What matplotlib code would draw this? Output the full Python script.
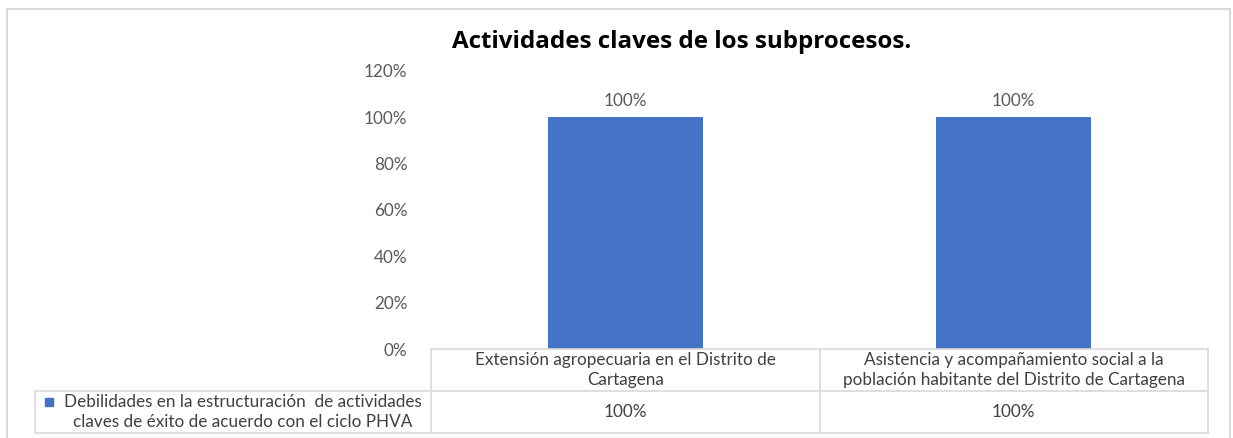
import matplotlib
matplotlib.use("Agg")
import matplotlib.pyplot as plt
from matplotlib.patches import Rectangle
from matplotlib.lines import Line2D

plt.rcParams['font.family'] = ['Lato', 'DejaVu Sans']

title = "Actividades claves de los subprocesos."
categories = [
    "Extensión agropecuaria en el Distrito de\nCartagena",
    "Asistencia y acompañamiento social a la\npoblación habitante del Distrito de Cartagena",
]
series_name = "Debilidades en la estructuración  de actividades\nclaves de éxito de acuerdo con el ciclo PHVA"
values = [1.00, 1.00]
yticks = [0, 0.2, 0.4, 0.6, 0.8, 1.0, 1.2]

BAR = "#4472C4"
GRID = "#D9D9D9"
TICK = "#595959"
TEXT = "#404040"
FS = 12.3

W, H = 1233, 438
fig = plt.figure(figsize=(W / 100, H / 100), dpi=100)

def fx(px):
    return px / W

def fy(py):
    return 1 - py / H

# outer chart border
fig.add_artist(Line2D([fx(6.5), fx(6.5)], [fy(8.5), 0], color=GRID, lw=1.5))
fig.add_artist(Line2D([fx(6.5), fx(1229.5)], [fy(8.5), fy(8.5)], color=GRID, lw=1.5))
fig.add_artist(Line2D([fx(1229.5), fx(1229.5)], [fy(8.5), 0], color=GRID, lw=1.5))

left, right = 431, 1208
y0, ytop = 349, 70.6
ax = fig.add_axes([fx(left), fy(y0), fx(right - left), (y0 - ytop) / H])
x = list(range(len(categories)))
ax.bar(x, values, width=0.4, color=BAR, zorder=2)
ax.set_xlim(-0.5, len(categories) - 0.5)
ax.set_ylim(0, 1.2)
ax.set_yticks(yticks)
ax.set_yticklabels([f"{int(round(t * 100))}%" for t in yticks], color=TICK, fontsize=FS)
ax.tick_params(axis='y', length=0, pad=17)
ax.set_xticks([])
for s in ax.spines.values():
    s.set_visible(False)

for xi, v in zip(x, values):
    ax.annotate(f"{int(round(v * 100))}%", (xi, v), xytext=(0, 6), textcoords="offset points",
                ha="center", va="bottom", color=TICK, fontsize=FS)

fig.text(fx(682), fy(42), title, ha="center", va="center", fontsize=17.4,
         fontweight="bold", color="black", family=['Open Sans', 'DejaVu Sans'])

# data table below the axis
r0, r1, r2 = 349, 391, 433
col_edges = [left + i * (right - left) / len(categories) for i in range(len(categories) + 1)]
lk = dict(color=GRID, lw=1.2)
fig.add_artist(Line2D([fx(left), fx(right)], [fy(r0), fy(r0)], **lk))
fig.add_artist(Line2D([fx(35), fx(right)], [fy(r1), fy(r1)], **lk))
fig.add_artist(Line2D([fx(35), fx(right)], [fy(r2), fy(r2)], **lk))
fig.add_artist(Line2D([fx(35), fx(35)], [fy(r1), fy(r2)], **lk))
for ce in col_edges:
    fig.add_artist(Line2D([fx(ce), fx(ce)], [fy(r0), fy(r2)], **lk))

for i, (cat, v) in enumerate(zip(categories, values)):
    cx = (col_edges[i] + col_edges[i + 1]) / 2
    fig.text(fx(cx), fy((r0 + r1) / 2), cat, ha="center", va="center",
             fontsize=FS, color=TEXT, linespacing=1.3)
    fig.text(fx(cx), fy((r1 + r2) / 2), f"{int(round(v * 100))}%", ha="center",
             va="center", fontsize=FS, color=TEXT)

fig.add_artist(Rectangle((fx(45), fy(406)), fx(8), 8 / H, color=BAR))
fig.text(fx(243), fy((r1 + r2) / 2), series_name, ha="center", va="center",
         fontsize=FS, color=TEXT, linespacing=1.3, multialignment="center")

fig.savefig("out.png", dpi=100)
